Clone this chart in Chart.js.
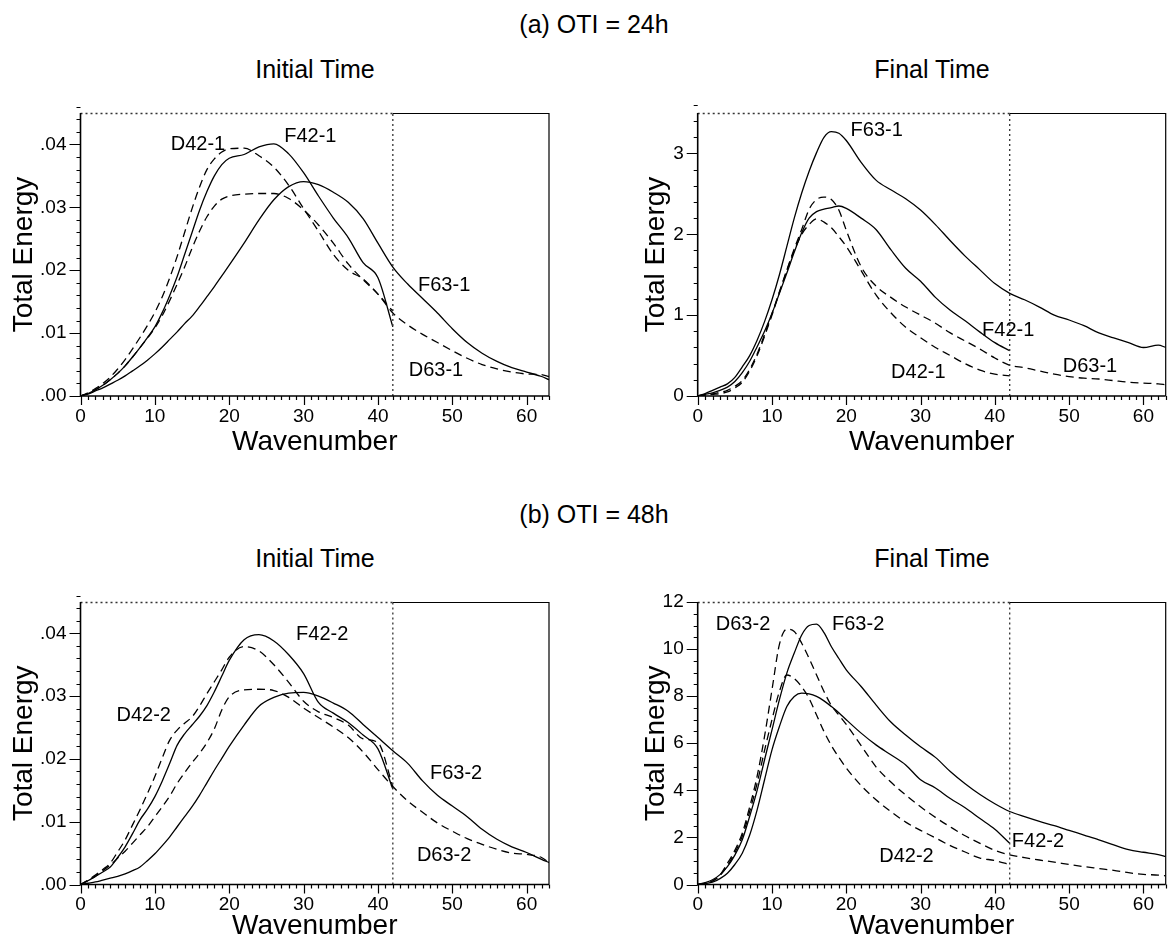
<!DOCTYPE html>
<html><head><meta charset="utf-8">
<script src="https://cdn.jsdelivr.net/npm/chart.js@4/dist/chart.umd.min.js"></script>
<style>
html,body{margin:0;padding:0;background:#fff;}
body{width:1169px;height:943px;position:relative;overflow:hidden;font-family:"Liberation Sans",Arial,sans-serif;color:#000;}
.t{position:absolute;font-size:25px;line-height:30px;white-space:nowrap;transform:translate(-50%,-50%);}
.box{position:absolute;}
</style></head><body>
<div class="t" style="left:594px;top:24px">(a) OTI = 24h</div>
<div class="t" style="left:315px;top:69px">Initial Time</div>
<div class="t" style="left:932px;top:69px">Final Time</div>
<div class="t" style="left:594px;top:514px">(b) OTI = 48h</div>
<div class="t" style="left:315px;top:558px">Initial Time</div>
<div class="t" style="left:932px;top:558px">Final Time</div>
<div class="box" style="left:0;top:100px"><canvas id="c1" width="560" height="360"></canvas></div>
<div class="box" style="left:600px;top:100px"><canvas id="c2" width="569" height="360"></canvas></div>
<div class="box" style="left:0;top:589px"><canvas id="c3" width="560" height="354"></canvas></div>
<div class="box" style="left:600px;top:589px"><canvas id="c4" width="569" height="354"></canvas></div>
<script>
// ---------- data ----------
const waves42 = [0,1,2,3,4,5,6,7,8,9,10,11,12,13,14,15,16,17,18,19,20,22,24,26,28,30,32,34,36,38,40,42];
const waves63 = [0,1,2,3,4,5,6,7,8,9,10,11,12,13,14,15,16,17,18,19,20,22,24,26,28,30,32,34,36,38,40,42,44,46,48,50,52,54,56,58,60,62,63];
const xTickValues = [0,10,20,30,40,50,60];
const truncationWave = 42;

// (a) OTI = 24h, initial time
const init24_D42 = [0,.0005,.0012,.002,.003,.0043,.0058,.0075,.0093,.0112,.0133,.0158,.0188,.0222,.026,.0298,.0332,.036,.0377,.0388,.0393,.0394,.0382,.0364,.0335,.0298,.0262,.0225,.0200,.0186,.0162,.0135];
const init24_F42 = [0,.0004,.001,.0017,.0026,.0036,.0048,.0062,.0077,.0093,.011,.0133,.016,.019,.0225,.026,.0295,.0325,.035,.0368,.0378,.0384,.0396,.0401,.0385,.0355,.0318,.0283,.0252,.0212,.0188,.011];
const init24_D63 = [0,.0004,.001,.0017,.0026,.0036,.0048,.0062,.0077,.0092,.0108,.0128,.0152,.0178,.0205,.0235,.0262,.0285,.0302,.0313,.0318,.0321,.0322,.0322,.0314,.0296,.0272,.0243,.021,.0185,.0162,.0132,.0113,.0098,.0085,.0072,.006,.005,.0043,.0038,.0035,.0034,.0031];
const init24_F63 = [0,.0003,.0008,.0013,.0019,.0025,.0032,.004,.0048,.0057,.0067,.0078,.009,.0102,.0115,.0127,.0142,.0158,.0174,.0191,.0208,.0243,.028,.0312,.0333,.0341,.0336,.0324,.0308,.0282,.0243,.0205,.0178,.0155,.0132,.0107,.0085,.0068,.0055,.0045,.0038,.0031,.0026];

// (a) OTI = 24h, final time
const fin24_F63 = [0,.03,.07,.11,.15,.23,.36,.5,.69,.92,1.19,1.5,1.85,2.2,2.51,2.78,3.01,3.2,3.27,3.25,3.16,2.89,2.67,2.55,2.44,2.3,2.12,1.92,1.73,1.56,1.39,1.27,1.19,1.1,1.0,.94,.87,.78,.72,.66,.6,.63,.6];
const fin24_F42 = [0,.02,.04,.07,.11,.18,.29,.43,.61,.8,1.02,1.27,1.52,1.78,2.02,2.2,2.28,2.31,2.33,2.35,2.32,2.2,2.06,1.81,1.58,1.42,1.22,1.06,.93,.79,.66,.56];
const fin24_D63 = [0,.01,.025,.045,.07,.12,.19,.33,.52,.76,1.02,1.29,1.56,1.82,2.06,2.31,2.43,2.46,2.43,2.3,2.05,1.6,1.36,1.22,1.1,1.0,.9,.78,.68,.58,.47,.38,.35,.31,.27,.24,.22,.21,.19,.17,.16,.15,.14];
const fin24_D42 = [0,.01,.02,.03,.05,.1,.17,.31,.5,.74,1.0,1.28,1.55,1.8,2.0,2.12,2.19,2.15,2.08,1.97,1.85,1.55,1.25,1.03,.85,.72,.6,.5,.4,.32,.27,.25];

// (b) OTI = 48h, initial time
const init48_F42 = [0,.0006,.0013,.002,.0028,.0043,.006,.0081,.0103,.012,.014,.0165,.0193,.0222,.024,.0254,.0268,.0285,.0307,.0332,.0357,.039,.0398,.0388,.0366,.0336,.029,.0273,.0258,.0238,.0216,.0152];
const init48_D42 = [0,.0007,.0015,.0024,.0034,.0052,.0071,.0095,.0119,.0145,.0172,.0202,.023,.0246,.0257,.0267,.0284,.0304,.0323,.0342,.0362,.0379,.0372,.035,.0322,.0292,.0275,.0266,.0254,.0232,.0226,.0156];
const init48_D63 = [0,.0006,.0013,.0022,.0031,.0042,.0053,.0066,.0079,.0092,.0108,.0124,.0141,.0161,.0178,.0194,.0209,.0226,.0248,.0278,.0299,.031,.0311,.0309,.0298,.0281,.0266,.0251,.0234,.0211,.0183,.0156,.0133,.0115,.0098,.0085,.0073,.0064,.0056,.005,.0048,.0043,.0035];
const init48_F63 = [0,.0002,.0004,.0007,.001,.0013,.0017,.0022,.0028,.0038,.0049,.0062,.0076,.0092,.0108,.0124,.0142,.0162,.0182,.0201,.022,.0254,.0284,.0298,.0305,.0306,.03,.0289,.0276,.0255,.0234,.0213,.0193,.0165,.0142,.0125,.0108,.0088,.0072,.006,.0051,.004,.0035];

// (b) OTI = 48h, final time
const fin48_F63 = [0,.08,.2,.42,.76,1.25,1.9,2.9,4.0,5.3,6.57,7.85,8.98,9.83,10.6,11.0,11.06,10.7,10.1,9.6,9.12,8.41,7.63,6.9,6.35,5.85,5.4,4.8,4.28,3.82,3.43,3.1,2.88,2.68,2.5,2.3,2.1,1.9,1.68,1.48,1.37,1.27,1.19];
const fin48_F42 = [0,.04,.1,.25,.48,.85,1.33,2.1,3.17,4.45,5.72,6.71,7.56,7.99,8.13,8.1,7.99,7.8,7.56,7.3,7.0,6.43,5.93,5.51,5.08,4.45,4.1,3.65,3.26,2.8,2.35,1.75];
const fin48_D63 = [0,.05,.15,.4,.9,1.45,2.18,3.3,4.6,6.3,8.27,10.2,10.85,10.75,10.25,9.6,8.9,8.2,7.6,7.2,6.8,5.9,5.0,4.35,3.8,3.3,2.85,2.45,2.07,1.75,1.45,1.26,1.14,1.04,.95,.85,.76,.68,.6,.5,.43,.4,.37];
const fin48_D42 = [0,.05,.15,.38,.8,1.35,2.05,3.1,4.3,5.7,7.0,8.2,8.9,8.75,8.4,7.9,7.2,6.5,5.9,5.4,4.95,4.2,3.6,3.1,2.65,2.3,1.98,1.65,1.38,1.12,1.02,.84];

// y tick values and labels
const yTicksInitial = [0,.01,.02,.03,.04];
const yLabelsInitial = ['.00','.01','.02','.03','.04'];
const yTicksFinal24 = [0,1,2,3];
const yLabelsFinal24 = ['0','1','2','3'];
const yTicksFinal48 = [0,2,4,6,8,10,12];
const yLabelsFinal48 = ['0','2','4','6','8','10','12'];

// curve labels (data coordinates)
const labelsInit24 = [{t:'D42-1',w:15.8,v:.0400},{t:'F42-1',w:30.9,v:.0412},{t:'F63-1',w:48.9,v:.0176},{t:'D63-1',w:47.8,v:.0041}];
const labelsFin24 = [{t:'F63-1',w:24.1,v:3.28},{t:'F42-1',w:41.8,v:.81},{t:'D42-1',w:29.7,v:.29},{t:'D63-1',w:52.8,v:.36}];
const labelsInit48 = [{t:'F42-2',w:32.5,v:.0398},{t:'D42-2',w:8.5,v:.0269},{t:'F63-2',w:50.5,v:.0177},{t:'D63-2',w:48.9,v:.0047}];
const labelsFin48 = [{t:'D63-2',w:6.1,v:11.04},{t:'F63-2',w:21.6,v:11.04},{t:'F42-2',w:45.8,v:1.83},{t:'D42-2',w:28.1,v:1.19}];

// ---------- drawing ----------
const FONT = '"Liberation Sans", Arial, sans-serif';
Chart.defaults.font.family = FONT;
Chart.defaults.color = '#000';

function pts(xs, ys){ return ys.map((v,i)=>({x:xs[i], y:v})); }

const framePlugin = {
  id:'frame',
  afterDatasetsDraw(chart, args, o){
    const {ctx, chartArea:a, scales:{x,y}} = chart;
    ctx.save();
    const xc = x.getPixelForValue(truncationWave);
    ctx.strokeStyle = '#333'; ctx.lineWidth = 1.3; ctx.setLineDash([2,3]);
    ctx.beginPath(); ctx.moveTo(xc, a.bottom); ctx.lineTo(xc, a.top); ctx.stroke();
    ctx.beginPath(); ctx.moveTo(a.left, a.top+0.5); ctx.lineTo(xc, a.top+0.5); ctx.stroke();
    ctx.setLineDash([]);
    ctx.strokeStyle = '#000'; ctx.lineWidth = 1.2;
    ctx.beginPath(); ctx.moveTo(xc, a.top+0.5); ctx.lineTo(a.right, a.top+0.5); ctx.lineTo(a.right, a.bottom); ctx.stroke();
    ctx.lineWidth = 1.6;
    ctx.beginPath(); ctx.moveTo(a.left, a.top); ctx.lineTo(a.left, a.bottom); ctx.lineTo(a.right, a.bottom); ctx.stroke();
    ctx.lineWidth = 1.2;
    ctx.beginPath();
    for (let w = 0; w <= x.max + 1e-9; w += 1) {
      const px = Math.round(x.getPixelForValue(w)) + 0.5;
      const len = (w % 10 === 0) ? 9 : 4;
      ctx.moveTo(px, a.bottom); ctx.lineTo(px, a.bottom + len);
    }
    const nMinor = Math.round(y.max / o.yMinor);
    for (let i = 0; i <= nMinor; i++) {
      const v = i * o.yMinor;
      const py = Math.round(y.getPixelForValue(v)) + 0.5;
      const isMajor = Math.abs(v / o.yMajor - Math.round(v / o.yMajor)) < 1e-6;
      ctx.moveTo(a.left, py); ctx.lineTo(a.left - (isMajor ? 11 : 4), py);
    }
    ctx.stroke();
    ctx.fillStyle = '#000'; ctx.font = '20px ' + FONT; ctx.textAlign = 'center'; ctx.textBaseline = 'middle';
    for (const l of o.labels) ctx.fillText(l.t, x.getPixelForValue(l.w), y.getPixelForValue(l.v));
    ctx.restore();
  }
};

function makePanel(id, series, yMax, yTicks, yLabels, yMajor, yMinor, labels, yAxisWidth, yTitlePad, xAxisHeight, xTitlePadBottom, padRight){
  new Chart(document.getElementById(id), {
    type:'line',
    data:{ datasets: series.map(s => ({
      data: pts(s.xs, s.ys), borderColor:'#000', borderWidth:1.3,
      borderDash: s.dashed ? [8,5] : [], pointRadius:0, fill:false,
      cubicInterpolationMode:'monotone'
    }))},
    options:{
      responsive:false, animation:false, devicePixelRatio:1,
      layout:{ padding:{ top:13, right:padRight, left:0, bottom:0 } },
      plugins:{ legend:{display:false}, tooltip:{enabled:false}, frame:{ labels, yMajor, yMinor } },
      scales:{
        x:{ type:'linear', min:0, max:63,
            afterBuildTicks: s => { s.ticks = xTickValues.map(v => ({value:v})); },
            afterFit: s => { s.height = xAxisHeight; s.paddingLeft = 0; s.paddingRight = 0; },
            ticks:{ font:{size:19}, color:'#000', padding:9, maxRotation:0, autoSkip:false },
            grid:{ display:false, drawTicks:false }, border:{ display:false },
            title:{ display:true, text:'Wavenumber', font:{size:28}, color:'#000', padding:{top:0, bottom:xTitlePadBottom} } },
        y:{ type:'linear', min:0, max:yMax,
            afterBuildTicks: s => { s.ticks = yTicks.map(v => ({value:v})); },
            afterFit: s => { s.width = yAxisWidth; s.paddingTop = 0; s.paddingBottom = 0; },
            ticks:{ font:{size:19}, color:'#000', padding:14, autoSkip:false, callback:(v,i) => yLabels[i] },
            grid:{ display:false, drawTicks:false }, border:{ display:false },
            title:{ display:true, text:'Total Energy', font:{size:28}, color:'#000', padding:{top:yTitlePad, bottom:0} } }
      }
    },
    plugins:[framePlugin]
  });
}

makePanel('c1', [
  {xs:waves42, ys:init24_D42, dashed:true},
  {xs:waves42, ys:init24_F42, dashed:false},
  {xs:waves63, ys:init24_D63, dashed:true},
  {xs:waves63, ys:init24_F63, dashed:false}
], .045, yTicksInitial, yLabelsInitial, .01, .002, labelsInit24, 80.5, 7, 64, 1, 11);

makePanel('c2', [
  {xs:waves63, ys:fin24_F63, dashed:false},
  {xs:waves42, ys:fin24_F42, dashed:false},
  {xs:waves63, ys:fin24_D63, dashed:true},
  {xs:waves42, ys:fin24_D42, dashed:true}
], 3.5, yTicksFinal24, yLabelsFinal24, 1, .2, labelsFin24, 97.7, 39, 64, 1, 3.3);

makePanel('c3', [
  {xs:waves42, ys:init48_F42, dashed:false},
  {xs:waves42, ys:init48_D42, dashed:true},
  {xs:waves63, ys:init48_D63, dashed:true},
  {xs:waves63, ys:init48_F63, dashed:false}
], .045, yTicksInitial, yLabelsInitial, .01, .002, labelsInit48, 80.5, 7, 58.5, 0, 11);

makePanel('c4', [
  {xs:waves63, ys:fin48_F63, dashed:false},
  {xs:waves42, ys:fin48_F42, dashed:false},
  {xs:waves63, ys:fin48_D63, dashed:true},
  {xs:waves42, ys:fin48_D42, dashed:true}
], 12, yTicksFinal48, yLabelsFinal48, 2, .5, labelsFin48, 97.7, 39, 58.5, 0, 3.3);
</script>
</body></html>
